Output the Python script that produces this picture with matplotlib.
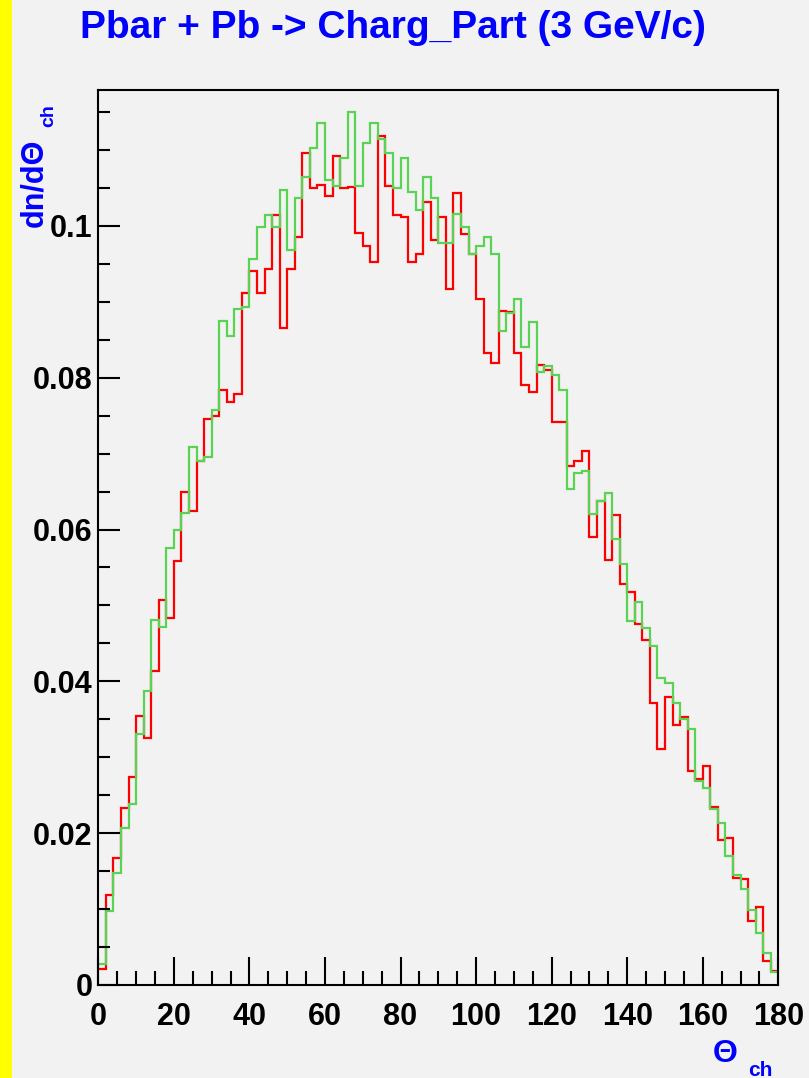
import matplotlib
matplotlib.use('Agg')
import matplotlib.pyplot as plt
import numpy as np
from matplotlib.ticker import MultipleLocator, FuncFormatter
from matplotlib.patches import Rectangle

# ---- data: dn/dTheta_ch per 2-degree bin, 0..180 deg ----
theta_min = 0
theta_max = 180
n_bins = 90

red_values = [
    0.0021, 0.0119, 0.0167, 0.0233, 0.0274, 0.0355, 0.0325, 0.0413, 0.0507, 0.0483,
    0.0559, 0.0650, 0.0624, 0.0690, 0.0745, 0.0749, 0.0784, 0.0768, 0.0778, 0.0911,
    0.0940, 0.0911, 0.0943, 0.1014, 0.0865, 0.0943, 0.0986, 0.1096, 0.1050, 0.1054,
    0.1040, 0.1092, 0.1050, 0.1051, 0.0991, 0.0973, 0.0953, 0.1118, 0.1053, 0.1014,
    0.1012, 0.0953, 0.0963, 0.1031, 0.0981, 0.1012, 0.0917, 0.1043, 0.0989, 0.0963,
    0.0904, 0.0833, 0.0820, 0.0888, 0.0886, 0.0833, 0.0791, 0.0781, 0.0817, 0.0810,
    0.0741, 0.0741, 0.0684, 0.0690, 0.0703, 0.0590, 0.0637, 0.0560, 0.0619, 0.0528,
    0.0518, 0.0476, 0.0454, 0.0372, 0.0311, 0.0379, 0.0343, 0.0353, 0.0282, 0.0272,
    0.0289, 0.0234, 0.0191, 0.0193, 0.0141, 0.0140, 0.0084, 0.0103, 0.0031, 0.0019,
]

green_values = [
    0.0028, 0.0097, 0.0148, 0.0207, 0.0238, 0.0330, 0.0387, 0.0481, 0.0471, 0.0576,
    0.0599, 0.0622, 0.0709, 0.0690, 0.0696, 0.0757, 0.0875, 0.0855, 0.0891, 0.0893,
    0.0956, 0.0999, 0.1014, 0.0999, 0.1047, 0.0968, 0.1037, 0.1064, 0.1102, 0.1135,
    0.1061, 0.1053, 0.1089, 0.1150, 0.1053, 0.1109, 0.1135, 0.1115, 0.1096, 0.1050,
    0.1089, 0.1044, 0.1021, 0.1064, 0.1037, 0.0978, 0.0978, 0.1015, 0.0999, 0.0963,
    0.0973, 0.0985, 0.0963, 0.0862, 0.0885, 0.0904, 0.0840, 0.0874, 0.0807, 0.0816,
    0.0804, 0.0784, 0.0654, 0.0674, 0.0677, 0.0621, 0.0638, 0.0648, 0.0587, 0.0554,
    0.0480, 0.0505, 0.0470, 0.0447, 0.0404, 0.0398, 0.0372, 0.0351, 0.0337, 0.0269,
    0.0260, 0.0232, 0.0213, 0.0170, 0.0145, 0.0126, 0.0099, 0.0068, 0.0042, 0.0017,
]

x_tick_labels = ['0', '20', '40', '60', '80', '100', '120', '140', '160', '180']
title_text = 'Pbar + Pb -> Charg_Part (3 GeV/c)'

# ---- figure ----
W, H = 809, 1078
BG = '#f2f2f2'
BLUE = '#0000ff'
FONT = 'Liberation Sans'

fig = plt.figure(figsize=(W / 100, H / 100), dpi=100, facecolor=BG)
fig.patches.append(Rectangle((0, 0), 12 / W, 1, transform=fig.transFigure,
                             facecolor='#ffff00', edgecolor='none', zorder=0))

ax_l, ax_r, ax_t, ax_b = 98.3, 778.3, 90, 985
ax = fig.add_axes([ax_l / W, 1 - ax_b / H, (ax_r - ax_l) / W, (ax_b - ax_t) / H])
ax.set_facecolor(BG)

edges = np.linspace(theta_min, theta_max, n_bins + 1)
ax.stairs(red_values, edges, baseline=None, color='#ff0000', lw=1.6)
ax.stairs(green_values, edges, baseline=None, color='#59d354', lw=1.6)

ax.set_xlim(theta_min, theta_max)
ax.set_ylim(0, 0.1179)

for s in ax.spines.values():
    s.set_linewidth(1.5)
    s.set_color('black')

ax.xaxis.set_major_locator(MultipleLocator(20))
ax.xaxis.set_minor_locator(MultipleLocator(5))
ax.yaxis.set_major_locator(MultipleLocator(0.02))
ax.yaxis.set_minor_locator(MultipleLocator(0.005))
ax.set_xticks(np.arange(0, 181, 20))
ax.set_xticklabels(x_tick_labels)
ax.yaxis.set_major_formatter(FuncFormatter(lambda v, p: '0' if abs(v) < 1e-9 else f'{v:g}'))

ax.tick_params(axis='x', which='major', direction='in', length=20, width=1.5,
               pad=12, labelsize=22, top=False)
ax.tick_params(axis='x', which='minor', direction='in', length=10, width=1.5, top=False)
ax.tick_params(axis='y', which='major', direction='in', length=16, width=1.5,
               pad=4, labelsize=22, right=False)
ax.tick_params(axis='y', which='minor', direction='in', length=8.5, width=1.5, right=False)
for lab in ax.get_xticklabels() + ax.get_yticklabels():
    lab.set_fontfamily(FONT)
    lab.set_fontweight('bold')

# title
fig.text(393 / W, 1 - 38 / H, title_text, ha='center', va='baseline',
         color=BLUE, fontsize=28, fontweight='bold', family=FONT)

# y axis title  dn/dTheta_ch
fig.text(42 / W, 1 - 227 / H, 'dn/dΘ', rotation=90, ha='left', va='baseline',
         rotation_mode='anchor', color=BLUE, fontsize=22, fontweight='bold', family=FONT)
fig.text(53 / W, 1 - 127 / H, 'ch', rotation=90, ha='left', va='baseline',
         rotation_mode='anchor', color=BLUE, fontsize=14, fontweight='bold', family=FONT)

# x axis title  Theta_ch
fig.text(713 / W, 1 - 1062 / H, 'Θ', ha='left', va='baseline',
         color=BLUE, fontsize=23, fontweight='bold', family=FONT)
fig.text(748 / W, 1 - 1076 / H, 'ch', ha='left', va='baseline',
         color=BLUE, fontsize=15, fontweight='bold', family=FONT)

fig.savefig('out.png', dpi=100, facecolor=BG)
